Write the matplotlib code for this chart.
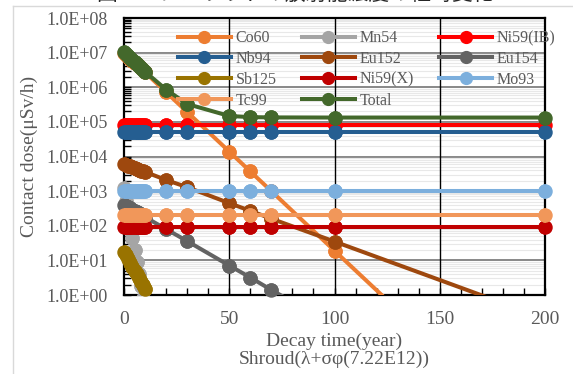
import matplotlib
matplotlib.use('Agg')
import matplotlib.pyplot as plt
import numpy as np
from matplotlib.ticker import FixedLocator, FuncFormatter, MultipleLocator, NullFormatter
from matplotlib.lines import Line2D

plt.rcParams['font.family'] = ['Liberation Serif', 'DejaVu Serif']

# ---- data ----
years = [0, 1, 2, 3, 4, 5, 6, 7, 8, 9, 10, 20, 30, 50, 60, 70, 100, 200]
co60 = [1.0e7, 8.77e6, 7.69e6, 6.74e6, 5.91e6, 5.18e6, 4.54e6, 3.98e6, 3.49e6, 3.06e6,
        2.68e6, 7.2e5, 1.93e5, 1.39e4, 3.7e3, 1.0e3, 19, 3.7e-5]
mn54 = [1.2e3, 520, 230, 100, 45, 20, 9, 4, 1.8, 0.8, 0.35, 1e-4, 3e-8, 1e-14, 1e-17,
        1e-20, 1e-30, 1e-60]
ni59ib = [8.0e4] * 18
nb94 = [5.2e4] * 18
eu152 = [6.0e3, 5.7e3, 5.4e3, 5.2e3, 4.9e3, 4.6e3, 4.4e3, 4.2e3, 3.9e3, 3.7e3,
         3.6e3, 2.1e3, 1.3e3, 4.5e2, 2.7e2, 1.6e2, 35, 0.21]
eu154 = [400, 370, 340, 315, 290, 268, 246, 228, 210, 193, 178, 80, 36, 7.1, 3.2, 1.4,
         0.13, 4e-5]
sb125 = [18, 14, 10.9, 8.5, 6.6, 5.1, 4.0, 3.1, 2.4, 1.9, 1.46, 0.12, 0.0096, 6e-5,
         5e-6, 4e-7, 2e-10, 3e-21]
ni59x = [95] * 18
mo93 = [1.0e3] * 18
tc99 = [210] * 18
total = [1.014e7, 8.91e6, 7.83e6, 6.88e6, 6.05e6, 5.32e6, 4.68e6, 4.12e6, 3.63e6,
         3.20e6, 2.82e6, 8.56e5, 3.28e5, 1.48e5, 1.373e5, 1.345e5, 1.334e5, 1.333e5]

names = ["Co60", "Mn54", "Ni59(IB)", "Nb94", "Eu152", "Eu154", "Sb125", "Ni59(X)",
         "Mo93", "Tc99", "Total"]
values = [co60, mn54, ni59ib, nb94, eu152, eu154, sb125, ni59x, mo93, tc99, total]
colors = ["#ED7D31", "#A5A5A5", "#FF0000", "#255E91", "#9E480E", "#636363",
          "#997300", "#C00000", "#7CAFDD", "#F1975A", "#43682B"]

ytick_vals = [1e0, 1e1, 1e2, 1e3, 1e4, 1e5, 1e6, 1e7, 1e8]
xtick_vals = [0, 50, 100, 150, 200]
xgrid_vals = [50, 100, 150]

# ---- figure ----
W, H = 573, 374
fig = plt.figure(figsize=(W / 100, H / 100), dpi=100)
ax = fig.add_axes([124 / W, 1 - 295 / H, 421 / W, 277 / H])

handles = {}
for i, (name, vals, col) in enumerate(zip(names, values, colors)):
    v = np.array(vals, dtype=float)
    z = 3 + i * 0.01
    ax.plot(years, v, color=col, lw=2.9, marker='o', ms=9.4,
            solid_capstyle='butt', zorder=z)
    vis = np.where(v >= 1, v, np.nan)
    ax.plot(years, vis, ls='none', marker='o', ms=9.4, color=col,
            clip_on=False, zorder=z)
    handles[name] = Line2D([], [], color=col, lw=2.9, marker='o', ms=8.5)

ax.set_yscale('log')
ax.set_xlim(0, 200)
ax.set_ylim(1, 1e8)

ax.yaxis.set_major_locator(FixedLocator(ytick_vals))
ax.yaxis.set_major_formatter(FuncFormatter(lambda v, p: f"{v:.1E}"))
ax.yaxis.set_minor_locator(FixedLocator(
    [m * 10 ** k for k in range(0, 8) for m in range(2, 10)]))
ax.yaxis.set_minor_formatter(NullFormatter())
ax.xaxis.set_major_locator(FixedLocator(xtick_vals))
ax.xaxis.set_minor_locator(MultipleLocator(10))

ax.set_axisbelow(True)
ax.yaxis.grid(True, which='minor', color='#E8E8E8', lw=0.8)
ax.yaxis.grid(True, which='major', color='#7F7F7F', lw=1.3)
for xv in xgrid_vals:
    ax.axvline(xv, color='black', lw=1.0, zorder=1.8)

ax.tick_params(axis='both', which='both', direction='in', color='black', width=1,
               length=5, labelcolor='#595959', pad=11.5)
ax.tick_params(axis='y', labelsize=13)
ax.tick_params(axis='x', labelsize=14)
for s in ax.spines.values():
    s.set_linewidth(1.6)
    s.set_color('black')
    s.set_zorder(2.5)

ax.set_ylabel("Contact dose(μSv/h)", fontsize=14, color='#595959')
ax.yaxis.set_label_coords(-0.205, 0.5)
ax.set_xlabel("Decay time(year)\nShroud(λ+σφ(7.22E12))", fontsize=14,
              color='#595959', linespacing=1.05)
ax.xaxis.set_label_coords(0.5, -0.135)

order = ["Co60", "Nb94", "Sb125", "Tc99", "Mn54", "Eu152", "Ni59(X)", "Total",
         "Ni59(IB)", "Eu154", "Mo93"]
leg = ax.legend([handles[n] for n in order], order, ncol=3, frameon=False,
                loc='upper left', bbox_to_anchor=(0.128, 0.956), borderpad=0,
                fontsize=11.5, handlelength=3.3, handletextpad=0.3,
                columnspacing=1.6, labelspacing=0.3, borderaxespad=0)
for t in leg.get_texts():
    t.set_color('#595959')

# outer chart border and clipped title
fig.add_artist(Line2D([12.5 / W, 12.5 / W], [0, 1 - 6 / H], color='#D9D9D9', lw=1))
fig.add_artist(Line2D([12.5 / W, 1], [1 - 6 / H, 1 - 6 / H], color='#D9D9D9', lw=1))
fig.text(97 / W, 1 + 0.5 / H, "図５　シュラウドの放射能濃度の経時変化", fontsize=15,
         family=['Noto Sans CJK JP', 'DejaVu Sans'], color='#262626',
         ha='left', va='baseline')

fig.savefig('out.png', dpi=100)
